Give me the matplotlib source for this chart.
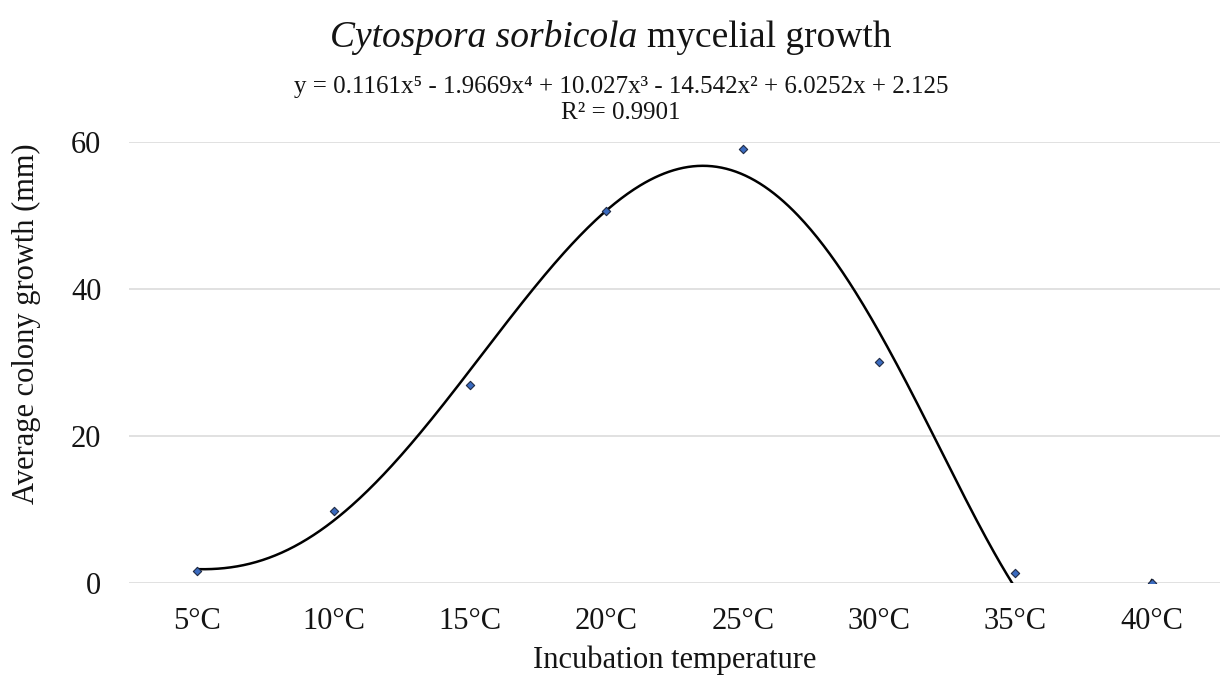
import numpy as np
import matplotlib
matplotlib.use("Agg")
import matplotlib.pyplot as plt

# Data
temps = ["5°C", "10°C", "15°C", "20°C", "25°C", "30°C", "35°C", "40°C"]
growth = [1.6, 9.8, 27.0, 50.6, 59.0, 30.1, 1.3, 0.0]
yticks = [0, 20, 40, 60]

plt.rcParams['font.family'] = ['Liberation Serif', 'DejaVu Serif']
txt = '#141414'

fig = plt.figure(figsize=(12.22, 6.81), dpi=100)
ax = fig.add_axes([0.1056, 0.1439, 0.8928, 0.6476])

x = np.arange(1, len(temps) + 1)

# polynomial trendline (order 5), like the spreadsheet one
coef = np.polyfit(x, growth, 5)
xs = np.linspace(1, len(temps), 600)
ax.plot(xs, np.polyval(coef, xs), color='black', lw=1.8, zorder=2)

ax.scatter(x, growth, marker='D', s=18, color='#3A6BC0', edgecolors='#1F2A44',
           linewidths=0.8, zorder=3)

ax.set_xlim(0.5, len(temps) + 0.5)
ax.set_ylim(0, 60)
ax.set_xticks(x)
ax.set_xticklabels(temps)
ax.set_yticks(yticks)
ax.tick_params(axis='both', length=0, labelsize=22, colors=txt)
ax.tick_params(axis='x', pad=17)
ax.tick_params(axis='y', pad=20)
ax.grid(axis='y', color='#D9D9D9', lw=1.1)
ax.set_axisbelow(True)
for s in ax.spines.values():
    s.set_visible(False)

ax.set_xlabel("Incubation temperature", fontsize=22, labelpad=7, color=txt)
ax.set_ylabel("Average colony growth (mm)", fontsize=22, color=txt)
ax.yaxis.set_label_coords(-0.081, 0.587)

# title: italic species name + upright rest, centred together
t1 = fig.text(0.5, 0.945, "Cytospora sorbicola ", fontsize=27, style='italic',
              ha='right', va='center', color=txt)
t2 = fig.text(0.5, 0.945, "mycelial growth", fontsize=27, ha='left', va='center',
              color=txt)
fig.canvas.draw()
w_it = t1.get_window_extent().width
w_rm = t2.get_window_extent().width
shift = (w_it - w_rm) / 2 / fig.bbox.width
t1.set_x(0.5 + shift)
t2.set_x(0.5 + shift)

fig.text(0.508, 0.872,
         "y = 0.1161x⁵ - 1.9669x⁴ + 10.027x³ - 14.542x² + 6.0252x + 2.125",
         fontsize=18, ha='center', va='center', color=txt)
fig.text(0.508, 0.834, "R² = 0.9901", fontsize=18, ha='center', va='center', color=txt)

fig.savefig("out.png", dpi=100)
